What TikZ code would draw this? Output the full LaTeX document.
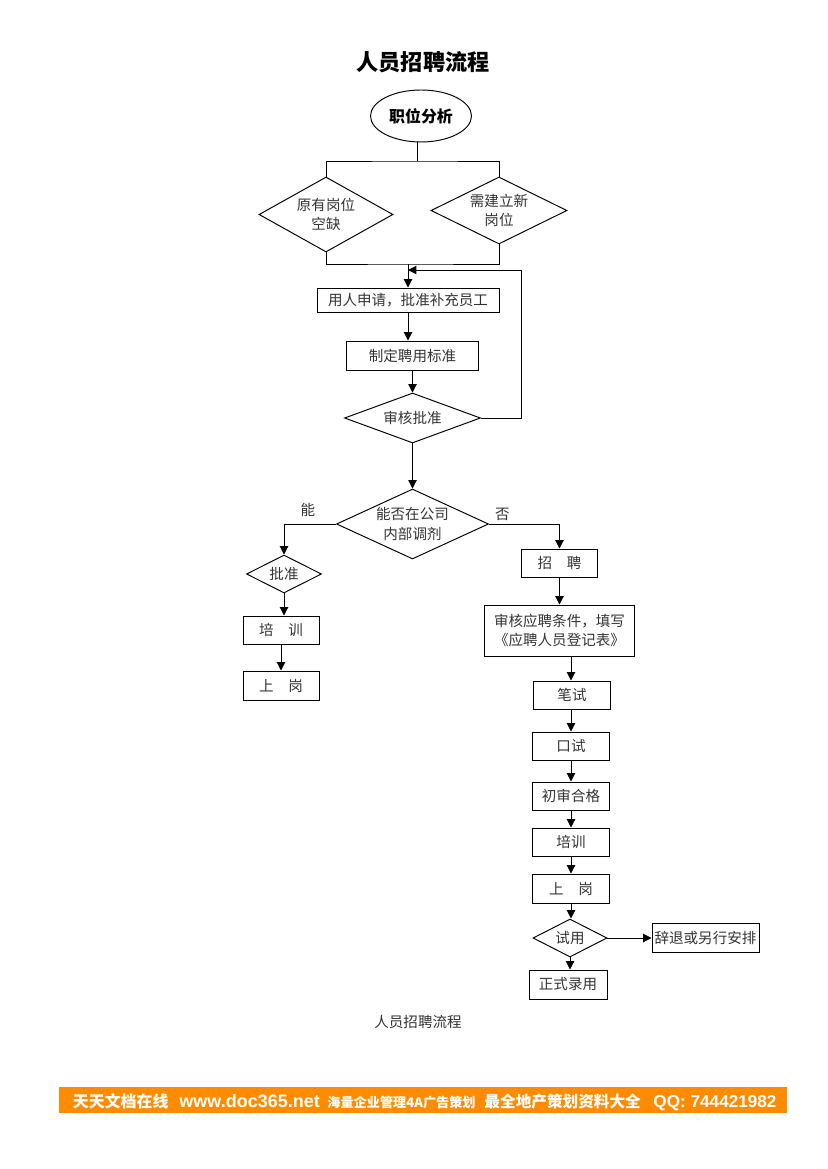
\documentclass[tikz,border=0pt]{standalone}
\usepackage{fontspec}
\setmainfont{Noto Sans CJK SC}
\newfontfamily\latinbold{Liberation Sans}
\usepackage{tikz}
\usetikzlibrary{arrows.meta,positioning,shapes.geometric}

\newlength\px
\setlength\px{0.254mm}
\definecolor{banorange}{RGB}{255,140,0}

\begin{document}
\begin{tikzpicture}[x=0.254mm, y=-0.254mm, line width=0.7pt,
  base/.style={font=\fontsize{10.5}{14}\selectfont, text=black!80, align=center, inner sep=0pt},
  box/.style={base, draw, rectangle},
  choice/.style={base, draw, diamond},
  wh/.style 2 args={minimum width=#1\px, minimum height=#2\px},
  arr/.style={-{Triangle[length=6pt,width=6pt]}},
  bantxt/.style={text=white, inner sep=0pt, anchor=base west}]
\useasboundingbox (0,0) rectangle (827,1169);

\node[font=\fontsize{16}{18}\selectfont\bfseries] (title) at (423,62) {人员招聘流程};

% top part
\node[draw, ellipse, wh={101}{52}, inner sep=0pt, font=\fontsize{11.5}{13}\selectfont\bfseries] (analyze) at (421,116) {职位分析};
\node[choice, wh={134}{75}, aspect=1.787] (vacant) at (326,214.5) {原有岗位\\空缺};
\node[choice, wh={136}{67}, aspect=2.03] (newpost) at (499,210.5) {需建立新\\岗位};
\node[box, wh={182}{24}] (apply) at (408,300) {用人申请，批准补充员工};
\node[box, wh={132}{29}] (standard) at (412.5,355.5) {制定聘用标准};
\node[choice, wh={136}{50}, aspect=2.72] (review) at (412.5,418) {审核批准};
\node[choice, wh={152}{70}, aspect=2.171] (internal) at (412.5,524) {能否在公司\\内部调剂};
\node[base] (yes) at (308,510) {能};
\node[base] (no) at (502.5,514) {否};

% left branch
\node[choice, wh={75}{38}, aspect=1.97] (approve) at (284,574) {批准};
\node[box, wh={76}{28}] (trainA) at (281,630) {培\quad 训};
\node[box, wh={76}{29}] (postA) at (281,685.5) {上\quad 岗};

% right branch
\node[box, wh={76}{28}] (recruit) at (559.5,563) {招\quad 聘};
\node[box, wh={150}{51}] (check) at (559.5,630.5) {审核应聘条件，填写\\《应聘人员登记表》};
\node[box, wh={77}{28}] (written) at (572,695) {笔试};
\node[box, wh={77}{28}] (oral) at (571,746) {口试};
\node[box, wh={77}{28}] (prelim) at (571,796) {初审合格};
\node[box, wh={77}{28}] (trainB) at (571,842) {培训};
\node[box, wh={77}{29}] (postB) at (571,888.5) {上\quad 岗};
\node[choice, wh={74}{38}, aspect=1.95] (trial) at (570,938) {试用};
\node[box, wh={107}{29}] (dismiss) at (705.5,938) {辞退或另行安排};
\node[box, wh={78}{29}] (hire) at (568,984.5) {正式录用};

\node[base] (caption) at (418,1022) {人员招聘流程};

\coordinate (split) at (417,161);
\coordinate (merge) at (408,264);
\coordinate (loop) at (521,270);

\draw (analyze.south -| split) -- (split);
\draw (vacant.north) |- (split) -| (newpost.north);
\draw (vacant.south) |- (merge) -| (newpost.south);
\draw[arr] (merge) -- (apply);
\draw[arr] (review.east) -| (loop) -- (loop -| apply);
\draw[arr] (apply.south) -- (apply.south |- standard.north);
\draw[arr] (standard) -- (review);
\draw[arr] (review) -- (internal);
\draw[arr] (internal.west) -| (approve.north);
\draw[arr] (internal.east) -| (recruit.north);
\draw[arr] (approve.south) -- (approve.south |- trainA.north);
\draw[arr] (trainA) -- (postA);
\draw[arr] (recruit) -- (check);
\draw[arr] (check.south -| oral) -- (oral.north |- written.north);
\draw[arr] (oral.north |- written.south) -- (oral);
\draw[arr] (oral) -- (prelim);
\draw[arr] (prelim) -- (trainB);
\draw[arr] (trainB) -- (postB);
\draw[arr] (postB.south) -- (postB.south |- trial.north);
\draw[arr] (trial) -- (dismiss);
\draw[arr] (trial.south) -- (trial.south |- hire.north);

% banner
\node[fill=banorange, wh={728}{26}, inner sep=0pt] (banner) at (423,1100.3) {};
\node[bantxt, font=\fontsize{11.5}{13}\selectfont\bfseries] (site) at (72.5,1107) {天天文档在线};
\node[bantxt, font=\latinbold\fontsize{13}{15}\selectfont\bfseries] (url) at (179,1107) {www.doc365.net};
\node[bantxt, font=\fontsize{9.5}{11}\selectfont\bfseries] (adv) at (327,1107) {海量企业管理4A广告策划};
\node[bantxt, font=\fontsize{11.3}{13}\selectfont\bfseries] (estate) at (484,1107) {最全地产策划资料大全};
\node[bantxt, font=\latinbold\fontsize{12.4}{14}\selectfont\bfseries] (qq) at (653,1107) {QQ: 744421982};
\end{tikzpicture}
\end{document}
